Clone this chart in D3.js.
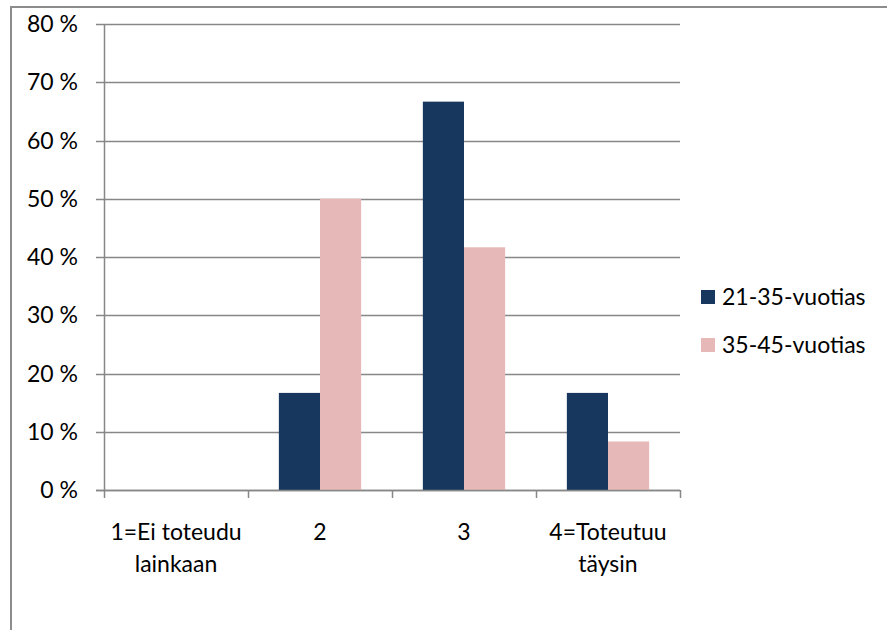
<!DOCTYPE html>
<html><head><meta charset="utf-8">
<script src="https://cdn.jsdelivr.net/npm/d3@7"></script>
<style>body{margin:0;background:#fff}svg{display:block}text{font-family:Lato,"Open Sans",sans-serif;fill:#000}</style>
</head><body><svg id="c" width="887" height="630"></svg>
<script>
const categories = ["1=Ei toteudu lainkaan", "2", "3", "4=Toteutuu täysin"];
const categoryLines = [["1=Ei toteudu","lainkaan"],["2"],["3"],["4=Toteutuu","täysin"]];
const seriesNames = ["21-35-vuotias", "35-45-vuotias"];
const series1 = [0, 16.67, 66.67, 16.67];
const series2 = [0, 50, 41.67, 8.33];
const yTicks = [0,10,20,30,40,50,60,70,80];
const colors = ["#17375e", "#e6b9b8"];
const FS = 23;

const svg = d3.select("#c");
svg.append("rect").attr("x",11).attr("y",7).attr("width",900).attr("height",700)
  .attr("fill","none").attr("stroke","#8c8c8c").attr("stroke-width",2);

const L=104, R=680, T=24, B=490;
const x = d3.scaleBand().domain(categories).range([L,R]).padding(0);
const y = d3.scaleLinear().domain([0,80]).range([B,T]);
const gapRatio = 1.5;
const barW = x.bandwidth()/(2+gapRatio);
const inner = d3.scaleBand().domain(seriesNames).range([0,2*barW]).padding(0);

// gridlines
svg.append("g").selectAll("line").data(yTicks).join("line")
  .attr("x1",L-8).attr("x2",R).attr("y1",d=>Math.round(y(d))+0.5).attr("y2",d=>Math.round(y(d))+0.5)
  .attr("stroke","#878787").attr("stroke-width",1.5);

// bars
const data = [series1, series2];
data.forEach((s,si)=>{
  svg.append("g").selectAll("rect").data(s.map((v,i)=>({c:categories[i],v}))).join("rect")
    .attr("x",d=>x(d.c)+(x.bandwidth()-2*barW)/2+inner(seriesNames[si]))
    .attr("width",inner.bandwidth())
    .attr("y",d=>y(d.v)).attr("height",d=>B-y(d.v))
    .attr("fill",colors[si]);
});

// axes lines
svg.append("line").attr("x1",L+0.5).attr("x2",L+0.5).attr("y1",T).attr("y2",B).attr("stroke","#878787").attr("stroke-width",1.5);
svg.append("line").attr("x1",L-8).attr("x2",R).attr("y1",B+0.5).attr("y2",B+0.5).attr("stroke","#878787").attr("stroke-width",1.5);
const xt = categories.map(c=>x(c)).concat([R]);
svg.append("g").selectAll("line").data(xt).join("line")
  .attr("x1",d=>Math.round(d)+0.5).attr("x2",d=>Math.round(d)+0.5).attr("y1",B).attr("y2",B+8)
  .attr("stroke","#878787").attr("stroke-width",1.5);

// y labels
svg.append("g").selectAll("text").data(yTicks).join("text")
  .attr("x",78).attr("y",d=>y(d)).attr("dy","0.35em").attr("text-anchor","end")
  .attr("font-size",FS).text(d=>d+" %");

// x labels
categories.forEach((c,i)=>{
  const cx = x(c)+x.bandwidth()/2;
  const t = svg.append("text").attr("text-anchor","middle").attr("font-size",FS)
    .attr("x",cx).attr("y",540);
  categoryLines[i].forEach((ln,j)=>t.append("tspan").attr("x",cx).attr("dy",j?32:0).text(ln));
});

// legend
seriesNames.forEach((n,i)=>{
  const ly = 297 + i*48;
  svg.append("rect").attr("x",701).attr("y",ly-7).attr("width",14).attr("height",14).attr("fill",colors[i]);
  svg.append("text").attr("x",722).attr("y",ly).attr("dy","0.35em").attr("font-size",FS).text(n);
});
</script></body></html>
